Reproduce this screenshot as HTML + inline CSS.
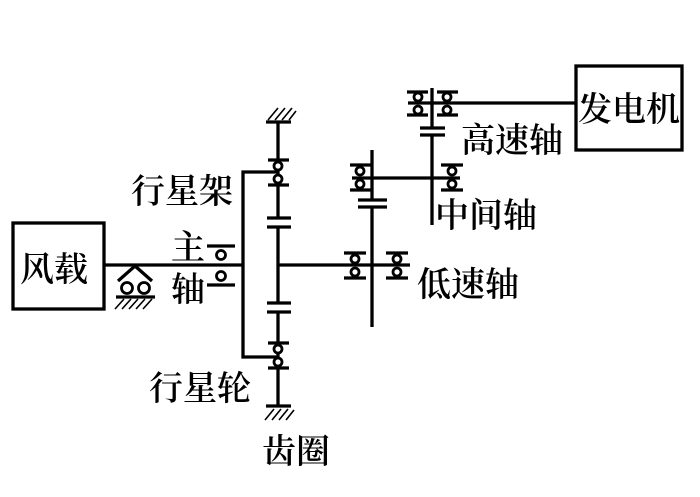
<!DOCTYPE html>
<html><head><meta charset="utf-8"><style>
html,body{margin:0;padding:0;background:#fff;}
svg{display:block}
text{font-family:"Liberation Serif","Noto Serif CJK SC","Noto Sans CJK SC",serif;fill:#000;font-weight:600;}
</style></head><body>
<svg width="700" height="497" viewBox="0 0 700 497" xmlns="http://www.w3.org/2000/svg">
<g stroke="#000" stroke-width="3.3" fill="none">
<rect x="13" y="223" width="91" height="86"/>
<rect x="576" y="66" width="106" height="84"/>
<line x1="104" y1="265" x2="243" y2="265"/>
<polyline points="278,172 243,172 243,357 278,357"/>
<line x1="278" y1="122" x2="278" y2="218"/>
<line x1="278" y1="227" x2="278" y2="303"/>
<line x1="278" y1="312" x2="278" y2="406"/>
<line x1="266" y1="122" x2="291" y2="122"/>
<line x1="266" y1="406" x2="291" y2="406"/>
<line x1="267" y1="218" x2="291" y2="218"/>
<line x1="267" y1="227" x2="291" y2="227"/>
<line x1="267" y1="303" x2="291" y2="303"/>
<line x1="267" y1="312" x2="291" y2="312"/>
<line x1="268" y1="160" x2="289" y2="160"/>
<line x1="268" y1="185" x2="289" y2="185"/>
<line x1="268" y1="343" x2="289" y2="343"/>
<line x1="268" y1="368" x2="289" y2="368"/>
<line x1="278" y1="265" x2="410" y2="265"/>
<line x1="207" y1="246" x2="235" y2="246"/>
<line x1="207" y1="285" x2="235" y2="285"/>
<line x1="344" y1="253" x2="366" y2="253"/>
<line x1="344" y1="278" x2="366" y2="278"/>
<line x1="386" y1="253" x2="408" y2="253"/>
<line x1="386" y1="278" x2="408" y2="278"/>
<line x1="372" y1="150" x2="372" y2="200"/>
<line x1="372" y1="207" x2="372" y2="327"/>
<line x1="358" y1="200" x2="387" y2="200"/>
<line x1="358" y1="207" x2="387" y2="207"/>
<line x1="352" y1="178" x2="460" y2="178"/>
<line x1="350" y1="165" x2="371" y2="165"/>
<line x1="350" y1="190" x2="371" y2="190"/>
<line x1="441" y1="165" x2="463" y2="165"/>
<line x1="441" y1="190" x2="463" y2="190"/>
<line x1="432" y1="88" x2="432" y2="128"/>
<line x1="432" y1="135" x2="432" y2="225"/>
<line x1="420" y1="128" x2="445" y2="128"/>
<line x1="420" y1="135" x2="445" y2="135"/>
<line x1="408" y1="103" x2="576" y2="103"/>
<line x1="407" y1="92" x2="428" y2="92"/>
<line x1="407" y1="115" x2="428" y2="115"/>
<line x1="437" y1="92" x2="458" y2="92"/>
<line x1="437" y1="115" x2="458" y2="115"/>
<polyline points="118,281 135,266 152,281"/>
<line x1="116" y1="297" x2="155" y2="297"/>
</g>
<g stroke="#000" stroke-width="2.8" fill="#fff">
<circle cx="278" cy="166" r="4"/><circle cx="278" cy="179" r="4"/>
<circle cx="278" cy="349" r="4"/><circle cx="278" cy="362" r="4"/>
<circle cx="221" cy="255" r="4.5"/><circle cx="221" cy="276" r="4.5"/>
<circle cx="355" cy="259" r="4"/><circle cx="355" cy="272" r="4"/>
<circle cx="397" cy="259" r="4"/><circle cx="397" cy="272" r="4"/>
<circle cx="360" cy="171" r="4"/><circle cx="360" cy="184" r="4"/>
<circle cx="452" cy="171" r="4"/><circle cx="452" cy="184" r="4"/>
<circle cx="418" cy="97" r="4"/><circle cx="418" cy="110" r="4"/>
<circle cx="447" cy="97" r="4"/><circle cx="447" cy="110" r="4"/>
<circle cx="127" cy="288" r="5.5"/><circle cx="144" cy="288" r="5.5"/>
</g>
<g stroke="#000" stroke-width="1.6">
<line x1="268" y1="120" x2="278" y2="108"/><line x1="275" y1="120" x2="285" y2="108"/><line x1="282" y1="120" x2="292" y2="108"/><line x1="289" y1="120" x2="296" y2="111"/>
<line x1="265" y1="420" x2="274" y2="409"/><line x1="272" y1="420" x2="281" y2="409"/><line x1="279" y1="420" x2="288" y2="409"/><line x1="286" y1="420" x2="294" y2="410"/>
<line x1="115" y1="309" x2="124" y2="299"/><line x1="122" y1="309" x2="131" y2="299"/><line x1="129" y1="309" x2="138" y2="299"/><line x1="136" y1="309" x2="145" y2="299"/><line x1="143" y1="309" x2="152" y2="299"/>
</g>
<g font-size="34">
<text x="20" y="281">风载</text>
<text x="578" y="121">发电机</text>
<text x="131" y="203">行星架</text>
<text x="171" y="259">主</text>
<text x="171" y="301">轴</text>
<text x="461" y="152">高速轴</text>
<text x="435" y="227">中间轴</text>
<text x="417" y="296">低速轴</text>
<text x="149" y="400">行星轮</text>
<text x="262" y="463">齿圈</text>
</g>
</svg>
</body></html>
